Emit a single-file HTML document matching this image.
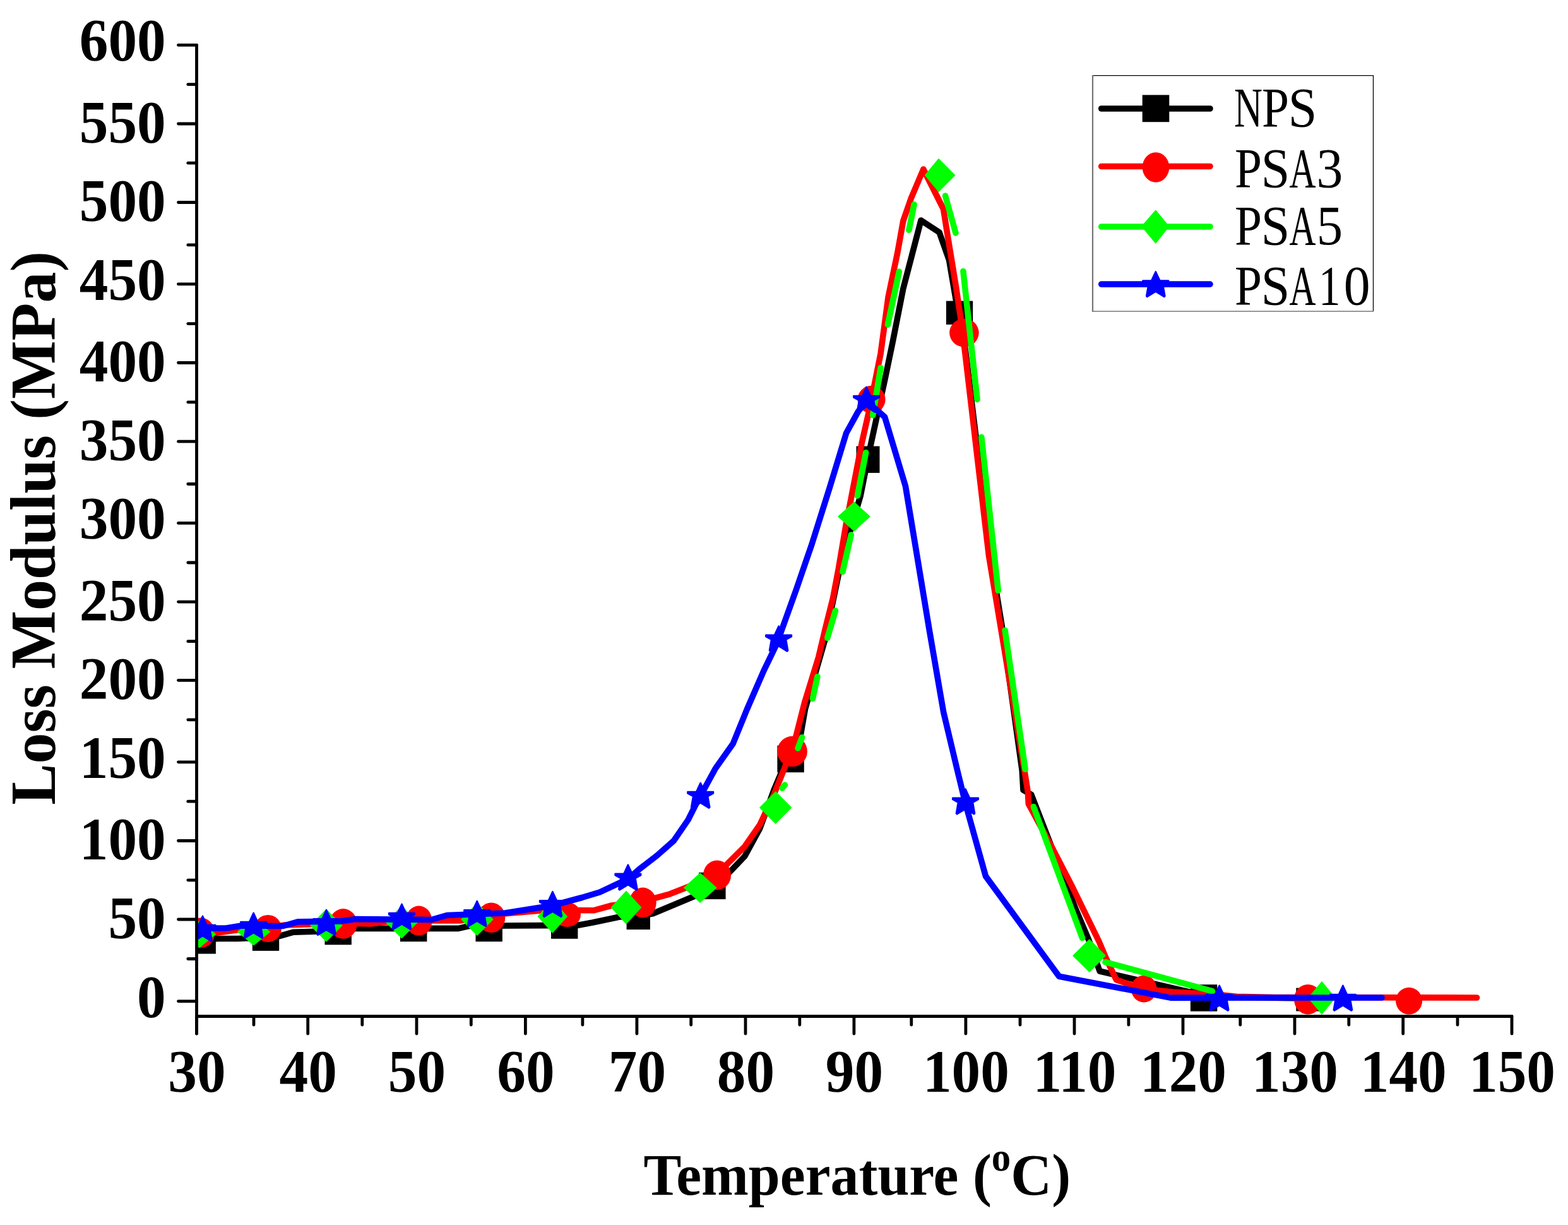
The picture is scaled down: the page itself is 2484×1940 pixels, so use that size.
<!DOCTYPE html>
<html><head><meta charset="utf-8"><title>Loss Modulus vs Temperature</title>
<style>html,body{margin:0;padding:0;background:#fff;}svg{display:block;}</style></head>
<body>
<svg width="2484" height="1940" viewBox="0 0 2484 1940">
<rect width="2484" height="1940" fill="#fff"/>
<defs><clipPath id="pc"><rect x="311.5" y="60" width="2083.5" height="1549.5"/></clipPath></defs>
<g clip-path="url(#pc)" stroke-linecap="round" stroke-linejoin="round">
<polyline points="311.5,1490.0 345.0,1486.5 376.0,1486.5 421.0,1484.6 443.0,1482.4 465.0,1476.2 506.0,1475.0 535.7,1474.0 560.0,1470.4 726.2,1470.4 744.0,1466.3 860.0,1465.6 914.5,1465.5 938.7,1461.0 981.5,1452.0 1011.8,1450.8 1034.5,1446.7 1098.4,1420.0 1131.3,1406.5 1156.0,1381.0 1179.8,1356.0 1203.5,1312.5 1226.5,1250.0 1242.6,1211.8 1265.5,1180.0 1275.5,1123.0 1292.0,1065.0 1307.0,1013.0 1332.7,889.0 1363.2,785.1 1378.2,710.0 1402.6,597.5 1414.5,540.0 1430.8,457.2 1459.0,349.0 1488.1,368.1 1503.5,411.7 1514.4,475.3 1522.0,505.0 1530.0,560.0 1569.0,880.0 1587.0,990.0 1619.2,1220.0 1621.0,1251.1 1633.8,1258.5 1704.2,1440.0 1724.4,1487.6 1742.1,1538.0 1905.7,1576.0 1930.0,1579.0 2074.5,1581.0" fill="none" stroke="#000" stroke-width="9.6"/>
<rect x="299.5" y="1468.1" width="42.4" height="42.4" fill="#000"/>
<rect x="399.8" y="1463.4" width="42.4" height="42.4" fill="#000"/>
<rect x="514.5" y="1453.8" width="42.4" height="42.4" fill="#000"/>
<rect x="634.0" y="1448.8" width="42.4" height="42.4" fill="#000"/>
<rect x="753.5" y="1448.8" width="42.4" height="42.4" fill="#000"/>
<rect x="873.0" y="1444.3" width="42.4" height="42.4" fill="#000"/>
<rect x="992.6" y="1429.7" width="37.3" height="42.4" fill="#000"/>
<rect x="1107.2" y="1381.7" width="42.4" height="42.4" fill="#000"/>
<rect x="1231.4" y="1180.8" width="42.4" height="42.4" fill="#000"/>
<rect x="1356.5" y="706.6" width="37" height="42.3" fill="#000"/>
<rect x="1498.9" y="476.6" width="42.3" height="37.4" fill="#000"/>
<rect x="1885.9" y="1559.2" width="42.4" height="42.4" fill="#000"/>
<rect x="2053.3" y="1564.6" width="42.4" height="36.8" fill="#000"/>
<polyline points="311.5,1478.0 341.0,1477.5 382.0,1472.0 424.5,1469.0 451.0,1465.0 543.7,1462.0 587.5,1463.0 610.8,1460.0 683.6,1458.0 729.0,1458.0 799.0,1447.0 860.0,1441.6 897.0,1441.5 940.3,1441.8 969.1,1434.0 1016.5,1428.0 1061.3,1415.8 1090.1,1404.5 1136.0,1385.9 1151.9,1368.4 1179.8,1340.6 1203.5,1306.6 1224.0,1263.3 1244.7,1211.8 1255.0,1189.7 1274.8,1111.8 1296.7,1040.6 1307.9,993.7 1319.6,946.9 1328.5,900.0 1340.3,830.3 1347.2,795.0 1365.0,702.6 1378.2,644.4 1395.1,560.0 1407.2,469.9 1421.7,400.8 1430.8,349.9 1443.5,313.6 1462.8,268.0 1494.5,331.0 1502.0,378.0 1514.4,453.5 1521.7,502.6 1529.0,560.0 1566.5,880.0 1622.9,1220.0 1628.4,1254.8 1629.3,1273.0 1665.0,1339.0 1698.0,1403.0 1741.0,1491.0 1751.9,1516.9 1768.4,1551.7 1811.4,1566.4 1858.1,1571.0 1922.2,1574.6 1958.8,1578.3 2020.0,1579.5 2339.6,1580.0" fill="none" stroke="#f00" stroke-width="9.6"/>
<ellipse cx="318.3" cy="1477.3" rx="22" ry="23.8" fill="#f00"/>
<ellipse cx="424.5" cy="1470.4" rx="21.5" ry="21.5" fill="#f00"/>
<ellipse cx="543.7" cy="1462.9" rx="22" ry="23.8" fill="#f00"/>
<ellipse cx="663.5" cy="1458.2" rx="21" ry="23.6" fill="#f00"/>
<ellipse cx="778.3" cy="1453.2" rx="22" ry="23.8" fill="#f00"/>
<ellipse cx="898.5" cy="1448.5" rx="21.5" ry="19.5" fill="#f00"/>
<ellipse cx="1018.3" cy="1429.5" rx="21.4" ry="23.9" fill="#f00"/>
<ellipse cx="1136" cy="1385.9" rx="22" ry="23.5" fill="#f00"/>
<ellipse cx="1255.1" cy="1190" rx="23.8" ry="24.2" fill="#f00"/>
<ellipse cx="1380.6" cy="632.7" rx="22" ry="22" fill="#f00"/>
<ellipse cx="1527.4" cy="527" rx="23.3" ry="22.5" fill="#f00"/>
<ellipse cx="1812.2" cy="1566" rx="20.3" ry="21.5" fill="#f00"/>
<ellipse cx="2072" cy="1582.7" rx="22" ry="23.8" fill="#f00"/>
<ellipse cx="2232.1" cy="1585.2" rx="21" ry="21.35" fill="#f00"/>
<line x1="1239.1" y1="1248.3" x2="1243.4" y2="1243.1" stroke="#0f0" stroke-width="9.6"/>
<line x1="1264.1" y1="1185.0" x2="1270.6" y2="1167.7" stroke="#0f0" stroke-width="9.6"/>
<line x1="1287.4" y1="1106.5" x2="1295.0" y2="1071.6" stroke="#0f0" stroke-width="9.6"/>
<line x1="1310.7" y1="1010.3" x2="1323.5" y2="967.2" stroke="#0f0" stroke-width="9.6"/>
<line x1="1334.9" y1="905.5" x2="1348.3" y2="847.0" stroke="#0f0" stroke-width="9.6"/>
<line x1="1358.4" y1="785.1" x2="1371.7" y2="716.7" stroke="#0f0" stroke-width="9.6"/>
<line x1="1382.7" y1="657.6" x2="1395.2" y2="582.5" stroke="#0f0" stroke-width="9.6"/>
<line x1="1406.4" y1="514.2" x2="1424.4" y2="430.1" stroke="#0f0" stroke-width="9.6"/>
<line x1="1439.9" y1="364.3" x2="1448.1" y2="323.7" stroke="#0f0" stroke-width="9.6"/>
<line x1="1497.5" y1="310.0" x2="1514.0" y2="369.0" stroke="#0f0" stroke-width="9.6"/>
<line x1="1525.9" y1="429.5" x2="1548.1" y2="632.6" stroke="#0f0" stroke-width="9.6"/>
<line x1="1554.8" y1="692.3" x2="1581.3" y2="935.3" stroke="#0f0" stroke-width="9.6"/>
<line x1="1592.1" y1="998.2" x2="1624.2" y2="1218.3" stroke="#0f0" stroke-width="9.6"/>
<line x1="1637.4" y1="1277.6" x2="1714.6" y2="1485.6" stroke="#0f0" stroke-width="9.6"/>
<line x1="1751.0" y1="1523.7" x2="1920.4" y2="1569.7" stroke="#0f0" stroke-width="9.6"/>
<polygon points="316.0,1458.7 341.3,1479.5 316.0,1500.3 290.7,1479.5" fill="#0f0" stroke="#0f0" stroke-width="1.4"/>
<polygon points="402.0,1454.9 427.3,1475.7 402.0,1496.5 376.7,1475.7" fill="#0f0" stroke="#0f0" stroke-width="1.4"/>
<polygon points="516.9,1440.6 541.7,1465.7 516.9,1490.8 492.1,1465.7" fill="#0f0" stroke="#0f0" stroke-width="1.4"/>
<polygon points="636.4,1435.4 661.2,1460.5 636.4,1485.6 611.6,1460.5" fill="#0f0" stroke="#0f0" stroke-width="1.4"/>
<polygon points="755.9,1430.9 780.7,1456.0 755.9,1481.1 731.1,1456.0" fill="#0f0" stroke="#0f0" stroke-width="1.4"/>
<polygon points="875.3,1425.9 898.3,1451.4 875.3,1476.9 852.3,1451.4" fill="#0f0" stroke="#0f0" stroke-width="1.4"/>
<polygon points="992.0,1411.4 1015.5,1437.1 992.0,1462.8 968.5,1437.1" fill="#0f0" stroke="#0f0" stroke-width="1.4"/>
<polygon points="1109.2,1383.1 1134.7,1406.1 1109.2,1429.1 1083.7,1406.1" fill="#0f0" stroke="#0f0" stroke-width="1.4"/>
<polygon points="1228.7,1253.9 1253.5,1279.0 1228.7,1304.1 1203.9,1279.0" fill="#0f0" stroke="#0f0" stroke-width="1.4"/>
<polygon points="1353.0,795.2 1377.9,818.0 1353.0,840.8 1328.1,818.0" fill="#0f0" stroke="#0f0" stroke-width="1.4"/>
<polygon points="1487.0,251.7 1512.5,277.5 1487.0,303.3 1465.7,277.5" fill="#0f0" stroke="#0f0" stroke-width="1.4"/>
<polygon points="1725.8,1487.9 1751.1,1513.4 1725.8,1538.9 1700.0,1513.4" fill="#0f0" stroke="#0f0" stroke-width="1.4"/>
<polygon points="2094.0,1555.0 2115.1,1580.4 2094.0,1605.8 2072.9,1580.4" fill="#0f0" stroke="#0f0" stroke-width="1.4"/>
<polyline points="311.5,1470.5 341.0,1470.0 357.7,1470.0 382.4,1466.0 448.4,1466.5 471.7,1459.8 539.0,1459.0 563.7,1455.6 683.6,1456.5 708.0,1449.5 800.0,1446.0 875.4,1434.0 921.8,1421.5 950.0,1413.0 970.6,1403.3 994.9,1391.9 1013.9,1375.6 1040.7,1355.0 1067.5,1331.3 1090.1,1298.4 1102.5,1273.6 1133.4,1217.0 1161.2,1177.8 1183.5,1123.0 1210.2,1061.7 1230.2,1020.5 1261.4,933.6 1285.9,862.4 1314.4,772.0 1340.7,685.7 1359.4,651.9 1372.6,635.0 1401.6,660.4 1434.5,770.1 1472.3,998.1 1494.6,1127.3 1516.6,1220.0 1529.5,1272.8 1561.5,1387.6 1677.7,1546.2 1854.4,1580.1 2189.0,1580.0" fill="none" stroke="#00f" stroke-width="9.6"/>
<polygon points="321.0,1450.7 327.6,1465.0 341.3,1465.0 341.3,1467.2 332.6,1472.0 335.6,1489.3 334.4,1490.5 321.0,1482.3 307.6,1490.5 306.4,1489.3 309.4,1472.0 300.7,1467.2 300.7,1465.0 314.4,1465.0" fill="#00f" stroke="#00f" stroke-width="2.5" stroke-linejoin="round"/>
<polygon points="401.6,1445.7 408.2,1460.0 421.9,1460.0 421.9,1462.2 413.2,1467.0 416.2,1484.3 415.0,1485.5 401.6,1477.3 388.2,1485.5 387.0,1484.3 390.0,1467.0 381.3,1462.2 381.3,1460.0 395.0,1460.0" fill="#00f" stroke="#00f" stroke-width="2.5" stroke-linejoin="round"/>
<polygon points="517.0,1441.0 523.6,1455.2 537.3,1455.2 537.3,1457.5 528.6,1462.3 531.6,1479.6 530.4,1480.8 517.0,1472.6 503.6,1480.8 502.4,1479.6 505.4,1462.3 496.7,1457.5 496.7,1455.2 510.4,1455.2" fill="#00f" stroke="#00f" stroke-width="2.5" stroke-linejoin="round"/>
<polygon points="636.5,1431.8 643.1,1446.0 656.8,1446.0 656.8,1448.3 648.1,1453.1 651.1,1470.4 649.9,1471.6 636.5,1463.4 623.1,1471.6 621.9,1470.4 624.9,1453.1 616.2,1448.3 616.2,1446.0 629.9,1446.0" fill="#00f" stroke="#00f" stroke-width="2.5" stroke-linejoin="round"/>
<polygon points="755.7,1427.0 762.3,1441.2 776.0,1441.2 776.0,1443.5 767.3,1448.3 770.3,1465.6 769.1,1466.8 755.7,1458.6 742.3,1466.8 741.1,1465.6 744.1,1448.3 735.4,1443.5 735.4,1441.2 749.1,1441.2" fill="#00f" stroke="#00f" stroke-width="2.5" stroke-linejoin="round"/>
<polygon points="875.4,1412.1 882.0,1426.3 895.7,1426.3 895.7,1428.6 887.0,1433.4 890.0,1450.7 888.8,1451.9 875.4,1443.7 862.0,1451.9 860.8,1450.7 863.8,1433.4 855.1,1428.6 855.1,1426.3 868.8,1426.3" fill="#00f" stroke="#00f" stroke-width="2.5" stroke-linejoin="round"/>
<polygon points="994.9,1369.6 1001.5,1383.8 1015.2,1383.8 1015.2,1386.1 1006.5,1390.9 1009.5,1408.2 1008.3,1409.4 994.9,1401.2 981.5,1409.4 980.3,1408.2 983.3,1390.9 974.6,1386.1 974.6,1383.8 988.3,1383.8" fill="#00f" stroke="#00f" stroke-width="2.5" stroke-linejoin="round"/>
<polygon points="1109.7,1239.8 1116.3,1254.0 1130.0,1254.0 1130.0,1256.3 1121.3,1261.1 1124.3,1278.4 1123.1,1279.6 1109.7,1271.4 1096.3,1279.6 1095.1,1278.4 1098.1,1261.1 1089.4,1256.3 1089.4,1254.0 1103.1,1254.0" fill="#00f" stroke="#00f" stroke-width="2.5" stroke-linejoin="round"/>
<polygon points="1233.6,991.6 1240.2,1005.8 1253.9,1005.8 1253.9,1008.1 1245.2,1012.9 1248.2,1030.2 1247.0,1031.4 1233.6,1023.2 1220.2,1031.4 1219.0,1030.2 1222.0,1012.9 1213.3,1008.1 1213.3,1005.8 1227.0,1005.8" fill="#00f" stroke="#00f" stroke-width="2.5" stroke-linejoin="round"/>
<polygon points="1372.6,612.8 1379.2,627.0 1392.9,627.0 1392.9,629.3 1384.2,634.1 1387.2,651.4 1386.0,652.6 1372.6,644.4 1359.2,652.6 1358.0,651.4 1361.0,634.1 1352.3,629.3 1352.3,627.0 1366.0,627.0" fill="#00f" stroke="#00f" stroke-width="2.5" stroke-linejoin="round"/>
<polygon points="1529.5,1249.5 1536.1,1263.8 1549.8,1263.8 1549.8,1266.0 1541.1,1270.8 1544.1,1288.1 1542.9,1289.3 1529.5,1281.1 1516.1,1289.3 1514.9,1288.1 1517.9,1270.8 1509.2,1266.0 1509.2,1263.8 1522.9,1263.8" fill="#00f" stroke="#00f" stroke-width="2.5" stroke-linejoin="round"/>
<polygon points="1931.7,1560.7 1938.3,1575.0 1952.0,1575.0 1952.0,1577.2 1943.3,1582.0 1946.3,1599.3 1945.1,1600.5 1931.7,1592.3 1918.3,1600.5 1917.1,1599.3 1920.1,1582.0 1911.4,1577.2 1911.4,1575.0 1925.1,1575.0" fill="#00f" stroke="#00f" stroke-width="2.5" stroke-linejoin="round"/>
<polygon points="2127.4,1560.7 2134.0,1575.0 2147.7,1575.0 2147.7,1577.2 2139.0,1582.0 2142.0,1599.3 2140.8,1600.5 2127.4,1592.3 2114.0,1600.5 2112.8,1599.3 2115.8,1582.0 2107.1,1577.2 2107.1,1575.0 2120.8,1575.0" fill="#00f" stroke="#00f" stroke-width="2.5" stroke-linejoin="round"/>
</g>
<g stroke="#000" stroke-width="4.8" stroke-linecap="round" fill="none">
<line x1="311.5" y1="71.4" x2="311.5" y2="1637"/>
<line x1="311.5" y1="1609.5" x2="2395" y2="1609.5"/>
<line x1="311.5" y1="71.4" x2="282.5" y2="71.4"/>
<line x1="311.5" y1="133.7" x2="297.8" y2="133.7"/>
<line x1="311.5" y1="196.0" x2="282.5" y2="196.0"/>
<line x1="311.5" y1="258.2" x2="297.8" y2="258.2"/>
<line x1="311.5" y1="320.5" x2="282.5" y2="320.5"/>
<line x1="311.5" y1="387.9" x2="297.8" y2="387.9"/>
<line x1="311.5" y1="449.9" x2="282.5" y2="449.9"/>
<line x1="311.5" y1="512.6" x2="297.8" y2="512.6"/>
<line x1="311.5" y1="574.5" x2="282.5" y2="574.5"/>
<line x1="311.5" y1="636.9" x2="297.8" y2="636.9"/>
<line x1="311.5" y1="699.2" x2="282.5" y2="699.2"/>
<line x1="311.5" y1="766.5" x2="297.8" y2="766.5"/>
<line x1="311.5" y1="828.4" x2="282.5" y2="828.4"/>
<line x1="311.5" y1="891.0" x2="297.8" y2="891.0"/>
<line x1="311.5" y1="953.1" x2="282.5" y2="953.1"/>
<line x1="311.5" y1="1015.7" x2="297.8" y2="1015.7"/>
<line x1="311.5" y1="1077.3" x2="282.5" y2="1077.3"/>
<line x1="311.5" y1="1139.8" x2="297.8" y2="1139.8"/>
<line x1="311.5" y1="1206.8" x2="282.5" y2="1206.8"/>
<line x1="311.5" y1="1269.2" x2="297.8" y2="1269.2"/>
<line x1="311.5" y1="1331.5" x2="282.5" y2="1331.5"/>
<line x1="311.5" y1="1393.8" x2="297.8" y2="1393.8"/>
<line x1="311.5" y1="1456.0" x2="282.5" y2="1456.0"/>
<line x1="311.5" y1="1518.5" x2="297.8" y2="1518.5"/>
<line x1="311.5" y1="1585.6" x2="282.5" y2="1585.6"/>
<line x1="311.5" y1="1609.5" x2="311.5" y2="1637"/>
<line x1="487.7" y1="1609.5" x2="487.7" y2="1637"/>
<line x1="660.0" y1="1609.5" x2="660.0" y2="1637"/>
<line x1="832.4" y1="1609.5" x2="832.4" y2="1637"/>
<line x1="1008.9" y1="1609.5" x2="1008.9" y2="1637"/>
<line x1="1181.0" y1="1609.5" x2="1181.0" y2="1637"/>
<line x1="1352.9" y1="1609.5" x2="1352.9" y2="1637"/>
<line x1="1529.9" y1="1609.5" x2="1529.9" y2="1637"/>
<line x1="1702.0" y1="1609.5" x2="1702.0" y2="1637"/>
<line x1="1874.0" y1="1609.5" x2="1874.0" y2="1637"/>
<line x1="2051.0" y1="1609.5" x2="2051.0" y2="1637"/>
<line x1="2222.7" y1="1609.5" x2="2222.7" y2="1637"/>
<line x1="2395.0" y1="1609.5" x2="2395.0" y2="1637"/>
<line x1="402.0" y1="1609.5" x2="402.0" y2="1623"/>
<line x1="573.8" y1="1609.5" x2="573.8" y2="1623"/>
<line x1="746.3" y1="1609.5" x2="746.3" y2="1623"/>
<line x1="922.9" y1="1609.5" x2="922.9" y2="1623"/>
<line x1="1094.7" y1="1609.5" x2="1094.7" y2="1623"/>
<line x1="1266.8" y1="1609.5" x2="1266.8" y2="1623"/>
<line x1="1443.8" y1="1609.5" x2="1443.8" y2="1623"/>
<line x1="1616.0" y1="1609.5" x2="1616.0" y2="1623"/>
<line x1="1787.9" y1="1609.5" x2="1787.9" y2="1623"/>
<line x1="1964.8" y1="1609.5" x2="1964.8" y2="1623"/>
<line x1="2136.8" y1="1609.5" x2="2136.8" y2="1623"/>
<line x1="2309.0" y1="1609.5" x2="2309.0" y2="1623"/>
</g>
<g font-family="'Liberation Serif', 'Times New Roman', serif" font-weight="bold" font-size="94.5" fill="#000">
<text transform="translate(262.7,95.9) scale(0.966,1)" text-anchor="end">600</text>
<text transform="translate(262.7,225.8) scale(0.966,1)" text-anchor="end">550</text>
<text transform="translate(262.7,349.9) scale(0.966,1)" text-anchor="end">500</text>
<text transform="translate(262.7,475.0) scale(0.966,1)" text-anchor="end">450</text>
<text transform="translate(262.7,603.8) scale(0.966,1)" text-anchor="end">400</text>
<text transform="translate(262.7,729.0) scale(0.966,1)" text-anchor="end">350</text>
<text transform="translate(262.7,853.2) scale(0.966,1)" text-anchor="end">300</text>
<text transform="translate(262.7,983.0) scale(0.966,1)" text-anchor="end">250</text>
<text transform="translate(262.7,1107.0) scale(0.966,1)" text-anchor="end">200</text>
<text transform="translate(262.7,1231.6) scale(0.966,1)" text-anchor="end">150</text>
<text transform="translate(262.7,1361.0) scale(0.966,1)" text-anchor="end">100</text>
<text transform="translate(262.7,1486.0) scale(0.966,1)" text-anchor="end">50</text>
<text transform="translate(262.7,1611.0) scale(0.966,1)" text-anchor="end">0</text>
<text transform="translate(312.0,1729.2) scale(0.966,1)" text-anchor="middle">30</text>
<text transform="translate(488.2,1729.2) scale(0.966,1)" text-anchor="middle">40</text>
<text transform="translate(660.5,1729.2) scale(0.966,1)" text-anchor="middle">50</text>
<text transform="translate(832.9,1729.2) scale(0.966,1)" text-anchor="middle">60</text>
<text transform="translate(1009.4,1729.2) scale(0.966,1)" text-anchor="middle">70</text>
<text transform="translate(1181.5,1729.2) scale(0.966,1)" text-anchor="middle">80</text>
<text transform="translate(1353.4,1729.2) scale(0.966,1)" text-anchor="middle">90</text>
<text transform="translate(1530.4,1729.2) scale(0.966,1)" text-anchor="middle">100</text>
<text transform="translate(1702.5,1729.2) scale(0.966,1)" text-anchor="middle">110</text>
<text transform="translate(1874.5,1729.2) scale(0.966,1)" text-anchor="middle">120</text>
<text transform="translate(2051.5,1729.2) scale(0.966,1)" text-anchor="middle">130</text>
<text transform="translate(2223.2,1729.2) scale(0.966,1)" text-anchor="middle">140</text>
<text transform="translate(2395.5,1729.2) scale(0.966,1)" text-anchor="middle">150</text>
</g>
<text transform="translate(1019.5,1891.9) scale(0.966,1)" font-family="'Liberation Serif', 'Times New Roman', serif" font-weight="bold" font-size="93">Temperature (<tspan font-size="63" dy="-38">o</tspan><tspan dy="38">C)</tspan></text>
<text transform="translate(86.9,1274.8) rotate(-90) scale(0.966,1)" font-family="'Liberation Serif', 'Times New Roman', serif" font-weight="bold" font-size="101.5">Loss Modulus (MPa)</text>
<rect x="1731" y="119.6" width="444.5" height="373.4" fill="#fff"/>
<line x1="1731" y1="119.6" x2="2175.5" y2="119.6" stroke="#000" stroke-width="1.4"/>
<line x1="2175.5" y1="119" x2="2175.5" y2="493" stroke="#000" stroke-width="1.3"/>
<line x1="1731" y1="119" x2="1731" y2="493.7" stroke="#747474" stroke-width="2.2"/>
<line x1="1730" y1="493" x2="2176" y2="493" stroke="#747474" stroke-width="1.6"/>
<line x1="1744.7" y1="172.0" x2="1917" y2="172.0" stroke="#000" stroke-width="9.6" stroke-linecap="round"/>
<line x1="1744.7" y1="263.5" x2="1917" y2="263.5" stroke="#f00" stroke-width="9.6" stroke-linecap="round"/>
<line x1="1744.7" y1="359.0" x2="1917" y2="359.0" stroke="#0f0" stroke-width="9.6" stroke-linecap="round"/>
<line x1="1744.7" y1="450.1" x2="1917" y2="450.1" stroke="#00f" stroke-width="9.6" stroke-linecap="round"/>
<rect x="1809.7" y="150.4" width="42.6" height="42.8" fill="#000"/>
<ellipse cx="1831" cy="265" rx="21.3" ry="23.75" fill="#f00"/>
<polygon points="1830.8,332.8 1852.0,358.5 1830.8,385.4 1808.5,358.5" fill="#0f0" stroke="#0f0" stroke-width="1"/>
<polygon points="1830.8,430.2 1837.4,444.4 1851.1,444.4 1851.1,446.7 1842.4,451.5 1845.4,468.8 1844.2,470.0 1830.8,461.8 1817.4,470.0 1816.2,468.8 1819.2,451.5 1810.5,446.7 1810.5,444.4 1824.2,444.4" fill="#00f" stroke="#00f" stroke-width="2.5" stroke-linejoin="round"/>
<g font-family="'Liberation Serif', 'Times New Roman', serif" font-size="88.5" fill="#000">
<text y="199.8"><tspan x="1955.0" textLength="44.94" lengthAdjust="spacingAndGlyphs">N</tspan><tspan x="1999.1" textLength="43.01" lengthAdjust="spacingAndGlyphs">P</tspan><tspan x="2040.7" textLength="45.54" lengthAdjust="spacingAndGlyphs">S</tspan></text>
<text y="295.8"><tspan x="1956.1" textLength="43.01" lengthAdjust="spacingAndGlyphs">P</tspan><tspan x="1997.7" textLength="45.54" lengthAdjust="spacingAndGlyphs">S</tspan><tspan x="2042.4" textLength="42.05" lengthAdjust="spacingAndGlyphs">A</tspan><tspan x="2085.5" textLength="41.86" lengthAdjust="spacingAndGlyphs">3</tspan></text>
<text y="387.3"><tspan x="1956.1" textLength="43.01" lengthAdjust="spacingAndGlyphs">P</tspan><tspan x="1997.7" textLength="45.54" lengthAdjust="spacingAndGlyphs">S</tspan><tspan x="2042.4" textLength="42.05" lengthAdjust="spacingAndGlyphs">A</tspan><tspan x="2085.8" textLength="41.41" lengthAdjust="spacingAndGlyphs">5</tspan></text>
<text y="482.0"><tspan x="1956.1" textLength="43.01" lengthAdjust="spacingAndGlyphs">P</tspan><tspan x="1997.7" textLength="45.54" lengthAdjust="spacingAndGlyphs">S</tspan><tspan x="2042.4" textLength="42.05" lengthAdjust="spacingAndGlyphs">A</tspan><tspan x="2089.0" textLength="34.58" lengthAdjust="spacingAndGlyphs">1</tspan><tspan x="2128.8" textLength="41.86" lengthAdjust="spacingAndGlyphs">0</tspan></text>
</g>
</svg>
</body></html>
